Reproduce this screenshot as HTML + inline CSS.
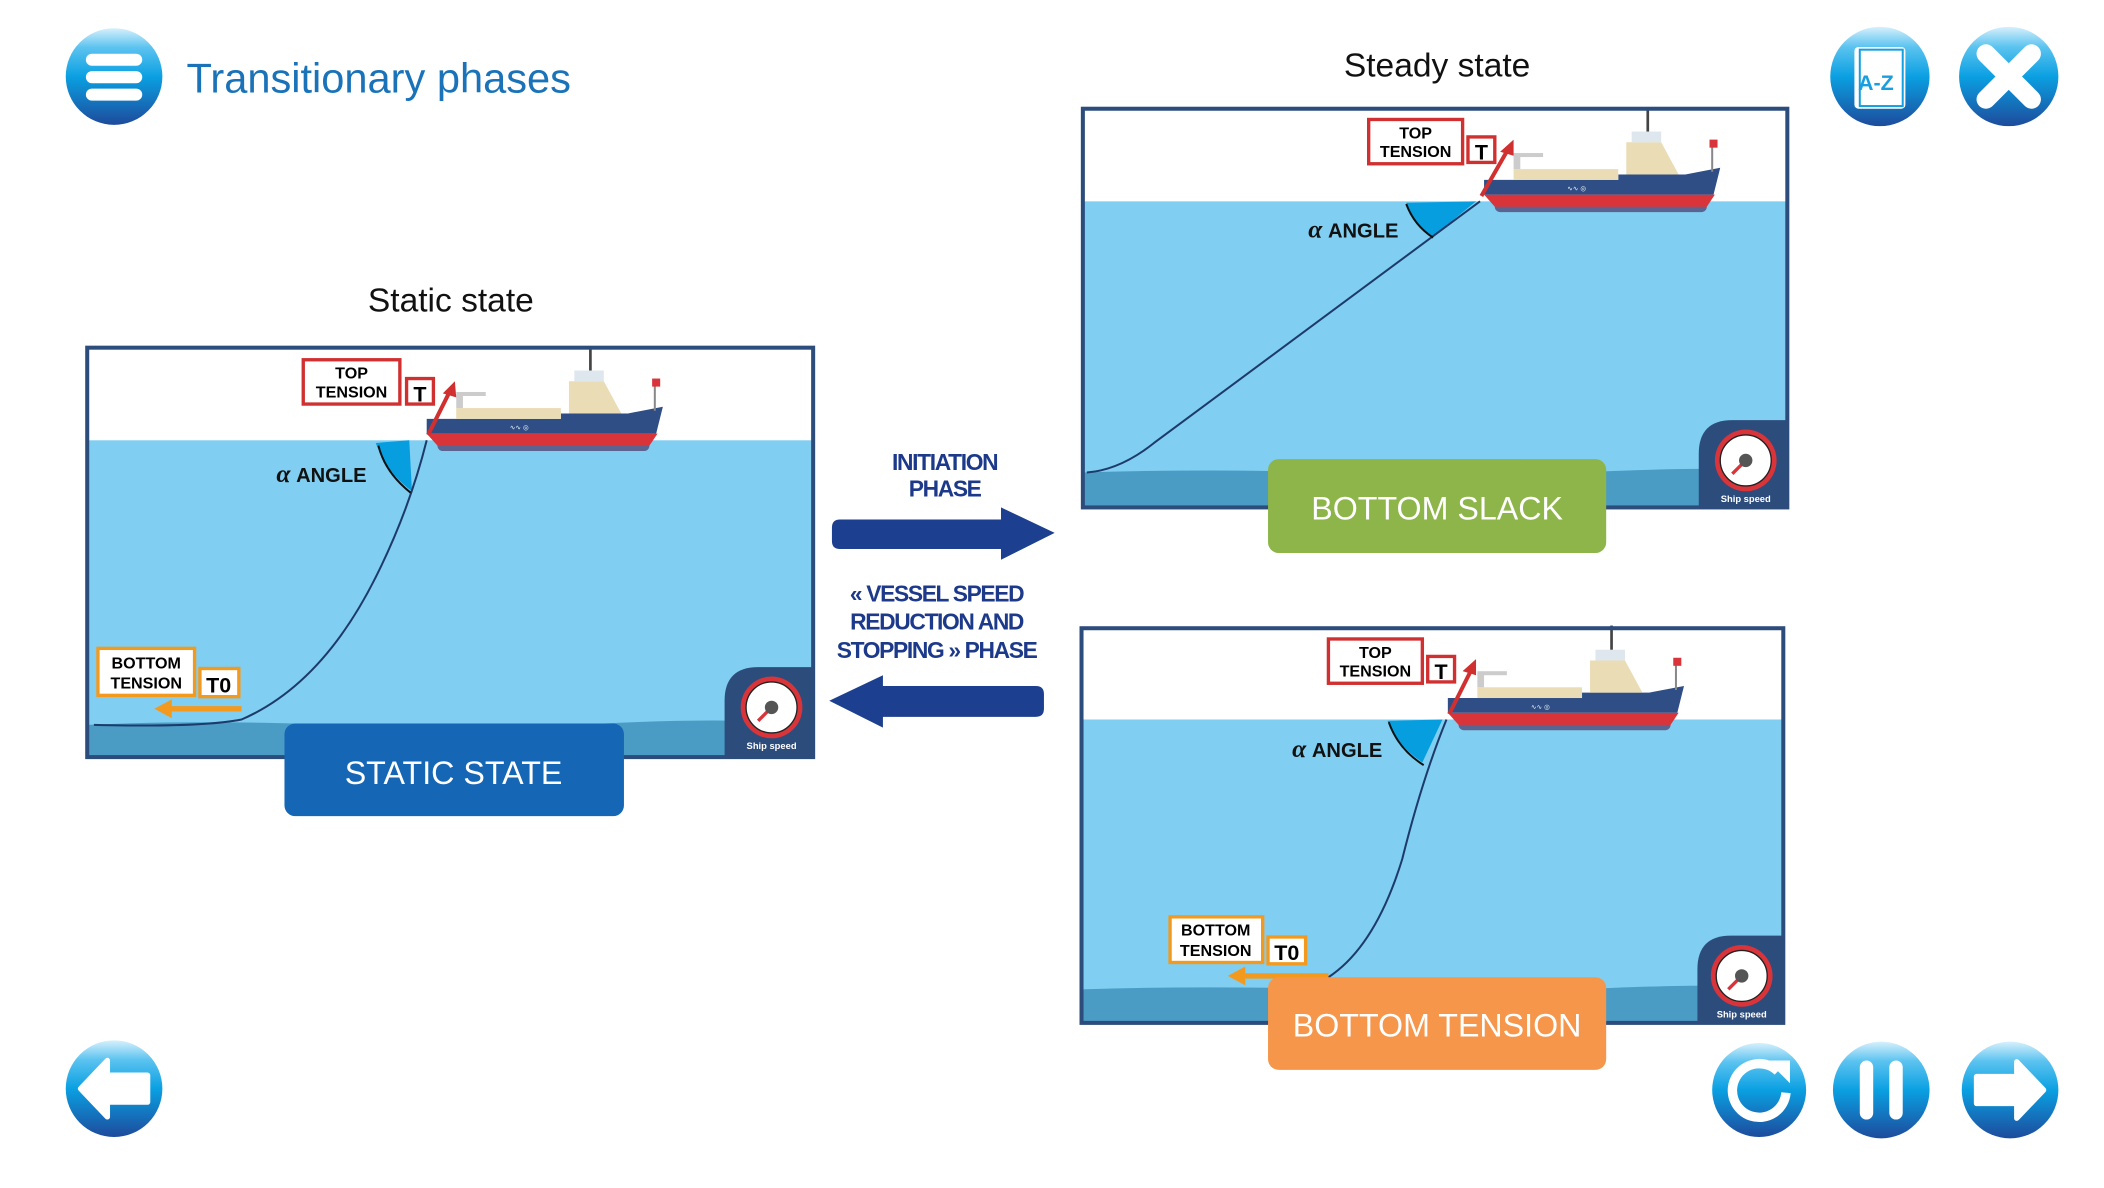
<!DOCTYPE html>
<html><head><meta charset="utf-8"><style>
html,body{margin:0;padding:0;background:#fff;}
svg{display:block;}
</style></head><body>
<svg width="2104" height="1188" viewBox="0 0 1568 885" preserveAspectRatio="none" xmlns="http://www.w3.org/2000/svg" font-family="Liberation Sans, sans-serif">
<defs>
<linearGradient id="bg" x1="0" y1="0" x2="0" y2="1">
<stop offset="0" stop-color="#d6f0fc"/><stop offset="0.2" stop-color="#5cc3f0"/><stop offset="0.5" stop-color="#0aa0e2"/><stop offset="1" stop-color="#1d4b9c"/>
</linearGradient>
<g id="ship">
<rect x="8" y="-1" width="158" height="9" rx="4" fill="#5b6490"/>
<polygon points="0,-5 172,-5 166,4 8,4" fill="#d8343a"/>
<polygon points="0,-16 100,-16 100,-20 150,-20 176,-25 171,-5 0,-5" fill="#2e4e85"/>
<rect x="22" y="-24" width="78" height="8" fill="#eadcb4"/>
<rect x="22" y="-34" width="5" height="10" fill="#ccc"/>
<rect x="22" y="-36" width="22" height="3" fill="#ccc"/>
<polygon points="106,-20 106,-44 132,-44 145,-20" fill="#eadcb4"/>
<rect x="110" y="-52" width="22" height="8" fill="#dfe7ee"/>
<line x1="122" y1="-70" x2="122" y2="-52" stroke="#444" stroke-width="2"/>
<line x1="170" y1="-44" x2="170" y2="-22" stroke="#888" stroke-width="1.5"/>
<rect x="168" y="-46" width="6" height="6" fill="#d8343a"/>
<text x="62" y="-8" font-size="5" fill="#fff">∿∿ ◎</text>
</g>
<g id="gauge">
<circle cx="0" cy="0" r="23" fill="#d8343a"/>
<circle cx="0" cy="0" r="19" fill="#fff" stroke="#222" stroke-width="1"/>
<line x1="0" y1="0" x2="-10" y2="10" stroke="#d8343a" stroke-width="2.5"/>
<circle cx="0" cy="0" r="5" fill="#555"/>
<text x="0" y="31" font-size="7" fill="#fff" text-anchor="middle" font-weight="bold">Ship speed</text>
</g>
</defs>

<ellipse cx="85" cy="57" rx="36" ry="36" fill="url(#bg)"/>
<rect x="64" y="40" width="42" height="9" rx="4.5" fill="#fff"/>
<rect x="64" y="53" width="42" height="9" rx="4.5" fill="#fff"/>
<rect x="64" y="66" width="42" height="9" rx="4.5" fill="#fff"/>
<text x="139" y="69" font-size="31" fill="#1a73b9">Transitionary phases</text>

<circle cx="1401" cy="57" r="37" fill="url(#bg)"/>
<rect x="1382" y="35" width="38" height="46" rx="3" fill="#fff"/>
<rect x="1386" y="37" width="32" height="42" fill="#fff" stroke="#14a0e0" stroke-width="1.5"/>
<text x="1398" y="67" font-size="16" font-weight="bold" fill="#1a9ee0" text-anchor="middle">A-Z</text>
<circle cx="1497" cy="57" r="37" fill="url(#bg)"/>
<path d="M1480 40 L1514 74 M1514 40 L1480 74" stroke="#fff" stroke-width="14" stroke-linecap="round"/>

<text x="336" y="232" font-size="25" text-anchor="middle" fill="#111">Static state</text>
<text x="1071" y="57" font-size="25" text-anchor="middle" fill="#111">Steady state</text>

<rect x="65" y="259" width="541" height="305" fill="#fff"/>
<rect x="65" y="328" width="541" height="236" fill="#80cef1"/>
<path d="M65 540 Q150 536 250 540 T450 539 T606 540 L606 564 L65 564Z" fill="#4a9cc5"/>
<path d="M305 328 L280 330 Q288 352 307 366 Z" fill="#079ee0"/>
<path d="M318 328 Q305 380 280 430 Q240 510 180 536 Q150 542 70 540" fill="none" stroke="#1d3a6a" stroke-width="1.5"/>
<path d="M282 332 Q287 352 306 367" fill="none" stroke="#111" stroke-width="1.5"/>
<text x="206" y="359" font-size="15" font-weight="bold" fill="#111"><tspan font-style="italic" font-family="Liberation Serif, serif" font-size="19">α</tspan> ANGLE</text>
<use href="#ship" x="318" y="328"/>
<line x1="319" y1="324" x2="336" y2="290" stroke="#d03030" stroke-width="3"/>
<polygon points="339,284 330,293 340,296" fill="#d03030"/>
<rect x="226" y="268" width="72" height="33" fill="#fff" stroke="#d03030" stroke-width="2.5"/>
<text x="262" y="282" font-size="12" font-weight="bold" text-anchor="middle">TOP</text>
<text x="262" y="296" font-size="12" font-weight="bold" text-anchor="middle">TENSION</text>
<rect x="303" y="282" width="20" height="19" fill="#fff" stroke="#d03030" stroke-width="2.5"/>
<text x="313" y="299" font-size="16" font-weight="bold" text-anchor="middle">T</text>
<rect x="73" y="483" width="72" height="35" fill="#fff" stroke="#f39a1e" stroke-width="2.5"/>
<text x="109" y="498" font-size="12" font-weight="bold" text-anchor="middle">BOTTOM</text>
<text x="109" y="513" font-size="12" font-weight="bold" text-anchor="middle">TENSION</text>
<rect x="149" y="498" width="29" height="21" fill="#fff" stroke="#f39a1e" stroke-width="2.5"/>
<text x="163" y="516" font-size="16" font-weight="bold" text-anchor="middle">T0</text>
<line x1="180" y1="528" x2="125" y2="528" stroke="#f39a1e" stroke-width="4"/>
<polygon points="115,528 128,521 128,535" fill="#f39a1e"/>
<path d="M540 564 L540 522 Q540 497 565 497 L606 497 L606 564Z" fill="#2c4c7c"/>
<use href="#gauge" x="575" y="527"/>
<rect x="65" y="259" width="541" height="305" fill="none" stroke="#2c4c7c" stroke-width="3"/>
<rect x="212" y="539" width="253" height="69" rx="8" fill="#1566b4"/>
<text x="338" y="584" font-size="24" fill="#fff" text-anchor="middle">STATIC STATE</text>

<text x="704" y="350" font-size="17" font-weight="bold" fill="#1d3a8a" text-anchor="middle" letter-spacing="-1">INITIATION</text>
<text x="704" y="370" font-size="17" font-weight="bold" fill="#1d3a8a" text-anchor="middle" letter-spacing="-1">PHASE</text>
<path d="M626 387 L746 387 L746 378 L786 397 L746 417 L746 409 L626 409 Q620 409 620 403 L620 393 Q620 387 626 387Z" fill="#1c3f8f"/>
<text x="698" y="448" font-size="17" font-weight="bold" fill="#1d3a8a" text-anchor="middle" letter-spacing="-1">« VESSEL SPEED</text>
<text x="698" y="469" font-size="17" font-weight="bold" fill="#1d3a8a" text-anchor="middle" letter-spacing="-1">REDUCTION AND</text>
<text x="698" y="490" font-size="17" font-weight="bold" fill="#1d3a8a" text-anchor="middle" letter-spacing="-1">STOPPING » PHASE</text>
<path d="M772 511 L658 511 L658 503 L618 522 L658 542 L658 534 L772 534 Q778 534 778 528 L778 517 Q778 511 772 511Z" fill="#1c3f8f"/>

<rect x="807" y="81" width="525" height="297" fill="#fff"/>
<rect x="807" y="150" width="525" height="228" fill="#80cef1"/>
<path d="M807 352 Q900 349 1000 352 T1200 351 T1332 352 L1332 378 L807 378Z" fill="#4a9cc5"/>
<path d="M1100 150 L1048 151 Q1055 168 1068 176 Z" fill="#079ee0"/>
<path d="M1103 150 L860 330 Q835 350 810 352" fill="none" stroke="#1d3a6a" stroke-width="1.5"/>
<path d="M1048 152 Q1054 168 1068 177" fill="none" stroke="#111" stroke-width="1.5"/>
<text x="975" y="177" font-size="15" font-weight="bold" fill="#111"><tspan font-style="italic" font-family="Liberation Serif, serif" font-size="19">α</tspan> ANGLE</text>
<use href="#ship" x="1106" y="150"/>
<line x1="1104" y1="146" x2="1124" y2="111" stroke="#d03030" stroke-width="3"/>
<polygon points="1128,104 1118,113 1128,116" fill="#d03030"/>
<rect x="1020" y="89" width="70" height="33" fill="#fff" stroke="#d03030" stroke-width="2.5"/>
<text x="1055" y="103" font-size="12" font-weight="bold" text-anchor="middle">TOP</text>
<text x="1055" y="117" font-size="12" font-weight="bold" text-anchor="middle">TENSION</text>
<rect x="1094" y="102" width="20" height="19" fill="#fff" stroke="#d03030" stroke-width="2.5"/>
<text x="1104" y="119" font-size="16" font-weight="bold" text-anchor="middle">T</text>
<path d="M1266 378 L1266 338 Q1266 313 1291 313 L1332 313 L1332 378Z" fill="#2c4c7c"/>
<use href="#gauge" x="1301" y="343"/>
<rect x="807" y="81" width="525" height="297" fill="none" stroke="#2c4c7c" stroke-width="3"/>
<rect x="945" y="342" width="252" height="70" rx="8" fill="#8db54a"/>
<text x="1071" y="387" font-size="24" fill="#fff" text-anchor="middle">BOTTOM SLACK</text>

<rect x="806" y="468" width="523" height="294" fill="#fff"/>
<rect x="806" y="536" width="523" height="226" fill="#80cef1"/>
<path d="M806 737 Q900 734 1000 737 T1200 736 T1329 737 L1329 762 L806 762Z" fill="#4a9cc5"/>
<path d="M1075 536 L1034 537 Q1042 556 1060 568 Z" fill="#079ee0"/>
<path d="M1078 536 Q1060 580 1045 640 Q1025 705 990 728" fill="none" stroke="#1d3a6a" stroke-width="1.5"/>
<path d="M1035 538 Q1042 558 1061 570" fill="none" stroke="#111" stroke-width="1.5"/>
<text x="963" y="564" font-size="15" font-weight="bold" fill="#111"><tspan font-style="italic" font-family="Liberation Serif, serif" font-size="19">α</tspan> ANGLE</text>
<use href="#ship" x="1079" y="536"/>
<line x1="1080" y1="532" x2="1097" y2="498" stroke="#d03030" stroke-width="3"/>
<polygon points="1100,491 1090,500 1100,503" fill="#d03030"/>
<rect x="990" y="476" width="70" height="33" fill="#fff" stroke="#d03030" stroke-width="2.5"/>
<text x="1025" y="490" font-size="12" font-weight="bold" text-anchor="middle">TOP</text>
<text x="1025" y="504" font-size="12" font-weight="bold" text-anchor="middle">TENSION</text>
<rect x="1064" y="489" width="20" height="19" fill="#fff" stroke="#d03030" stroke-width="2.5"/>
<text x="1074" y="506" font-size="16" font-weight="bold" text-anchor="middle">T</text>
<rect x="872" y="683" width="69" height="34" fill="#fff" stroke="#f39a1e" stroke-width="2.5"/>
<text x="906" y="697" font-size="12" font-weight="bold" text-anchor="middle">BOTTOM</text>
<text x="906" y="712" font-size="12" font-weight="bold" text-anchor="middle">TENSION</text>
<rect x="945" y="698" width="28" height="20" fill="#fff" stroke="#f39a1e" stroke-width="2.5"/>
<text x="959" y="715" font-size="16" font-weight="bold" text-anchor="middle">T0</text>
<line x1="990" y1="727" x2="925" y2="727" stroke="#f39a1e" stroke-width="4"/>
<polygon points="915,727 928,720 928,734" fill="#f39a1e"/>
<path d="M1265 762 L1265 722 Q1265 697 1290 697 L1329 697 L1329 762Z" fill="#2c4c7c"/>
<use href="#gauge" x="1298" y="727"/>
<rect x="806" y="468" width="523" height="294" fill="none" stroke="#2c4c7c" stroke-width="3"/>
<rect x="945" y="728" width="252" height="69" rx="8" fill="#f5964a"/>
<text x="1071" y="772" font-size="24" fill="#fff" text-anchor="middle">BOTTOM TENSION</text>

<circle cx="85" cy="811" r="36" fill="url(#bg)"/>
<polygon points="60,811 80,790 80,801 110,801 110,821 80,821 80,832" fill="#fff" stroke="#fff" stroke-width="4" stroke-linejoin="round"/>
<circle cx="1311" cy="812" r="35" fill="url(#bg)"/>
<path d="M1325 798 A20 20 0 1 0 1331 814" fill="none" stroke="#fff" stroke-width="7"/>
<polygon points="1317,790 1334,790 1334,807" fill="#fff"/>
<circle cx="1402" cy="812" r="36" fill="url(#bg)"/>
<rect x="1386" y="790" width="10" height="44" rx="5" fill="#fff"/>
<rect x="1408" y="790" width="10" height="44" rx="5" fill="#fff"/>
<circle cx="1498" cy="812" r="36" fill="url(#bg)"/>
<polygon points="1523,812 1503,791 1503,802 1473,802 1473,822 1503,822 1503,833" fill="#fff" stroke="#fff" stroke-width="4" stroke-linejoin="round"/>
</svg>
</body></html>
